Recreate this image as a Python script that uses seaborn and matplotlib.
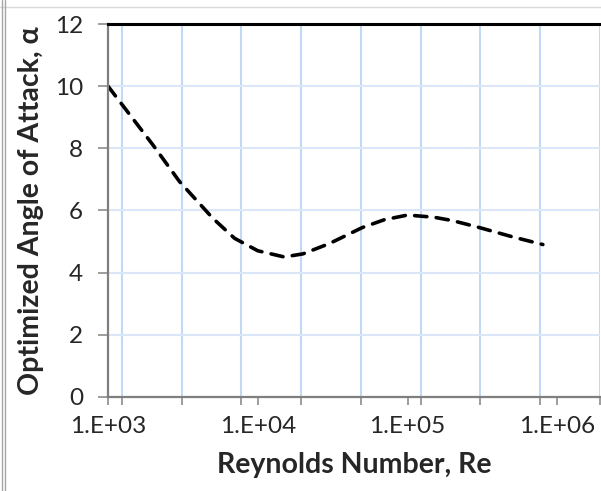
import numpy as np
import pandas as pd
import seaborn as sns
import matplotlib.pyplot as plt
from matplotlib.lines import Line2D
from matplotlib.ticker import NullFormatter

# Datos
reynolds = [1e3, 2e3, 3e3, 5e3, 7e3, 1e4, 1.5e4, 2e4, 3e4, 5e4, 7e4,
            1e5, 1.5e5, 2e5, 3e5, 5e5, 8e5]
angulo = [10.0, 8.1, 6.93, 5.75, 5.1, 4.7, 4.5, 4.6, 4.93, 5.45, 5.7,
          5.85, 5.78, 5.67, 5.45, 5.15, 4.9]

x_ticks = [1e3, 1e4, 1e5, 1e6]
x_labels = ["1.E+03", "1.E+04", "1.E+05", "1.E+06"]
y_ticks = [0, 2, 4, 6, 8, 10, 12]

df = pd.DataFrame({"Re": reynolds, "alpha": angulo})

sns.set_style("white")
plt.rcParams['font.family'] = ['Lato', 'DejaVu Sans']

fig = plt.figure(figsize=(6.01, 4.91), dpi=100)
ax = fig.add_axes([0.1797, 0.192, 0.8186, 0.759])

sns.lineplot(data=df, x="Re", y="alpha", ax=ax, color="black", lw=2.6,
             dashes=False)
linea = ax.lines[0]
linea.set_dashes((3.4, 2.6))
linea.set_dash_capstyle('round')

ax.set_xscale("log")
log_lo, log_hi = 3.0, 3.0 + 492 / 149.8
ax.set_xlim(10 ** log_lo, 10 ** log_hi)
ax.set_ylim(0, 12)

# rejilla vertical equiespaciada (como en el original)
grid_x = [10 ** (log_lo + (14 + 59.75 * k) / 492 * (log_hi - log_lo)) for k in range(9)]
ax.set_xticks(x_ticks)
ax.set_xticklabels(x_labels)
ax.set_xticks(grid_x, minor=True)
ax.xaxis.set_minor_formatter(NullFormatter())
ax.set_yticks(y_ticks)

ax.grid(False)
ax.grid(True, which="minor", axis="x", color="#c2d8f5", lw=1.5)
ax.grid(True, which="major", axis="y", color="#dbe7f8", lw=1.5)
ax.set_axisbelow(True)

ax.tick_params(axis="x", which="both", direction="out", length=6, width=1.2,
               color="#8c8c8c", bottom=True)
ax.tick_params(axis="x", which="major", labelsize=17.5, pad=8)
ax.tick_params(axis="y", direction="out", length=7, width=1.2, color="#8c8c8c",
               left=True, labelsize=17.5, pad=11)

for s in ["left", "bottom"]:
    ax.spines[s].set_color("#7f7f7f")
    ax.spines[s].set_linewidth(1.6)
ax.spines["top"].set_color("black")
ax.spines["top"].set_linewidth(2.2)
ax.spines["right"].set_visible(False)

ax.set_xlabel("Reynolds Number, Re", fontsize=20.5, fontweight="bold", labelpad=11)
ax.set_ylabel("Optimized Angle of Attack, α", fontsize=20.5, fontweight="bold",
              labelpad=8)

# marco exterior del grafico
fig.add_artist(Line2D([0, 1], [1 - 7 / 491, 1 - 7 / 491], color="#d9d9d9", lw=1.0))
fig.add_artist(Line2D([2 / 601, 2 / 601], [0, 1], color="#a6a6a6", lw=1.0))
fig.add_artist(Line2D([5 / 601, 5 / 601], [0, 1], color="#a6a6a6", lw=1.0))

plt.savefig("out.png", dpi=100)
